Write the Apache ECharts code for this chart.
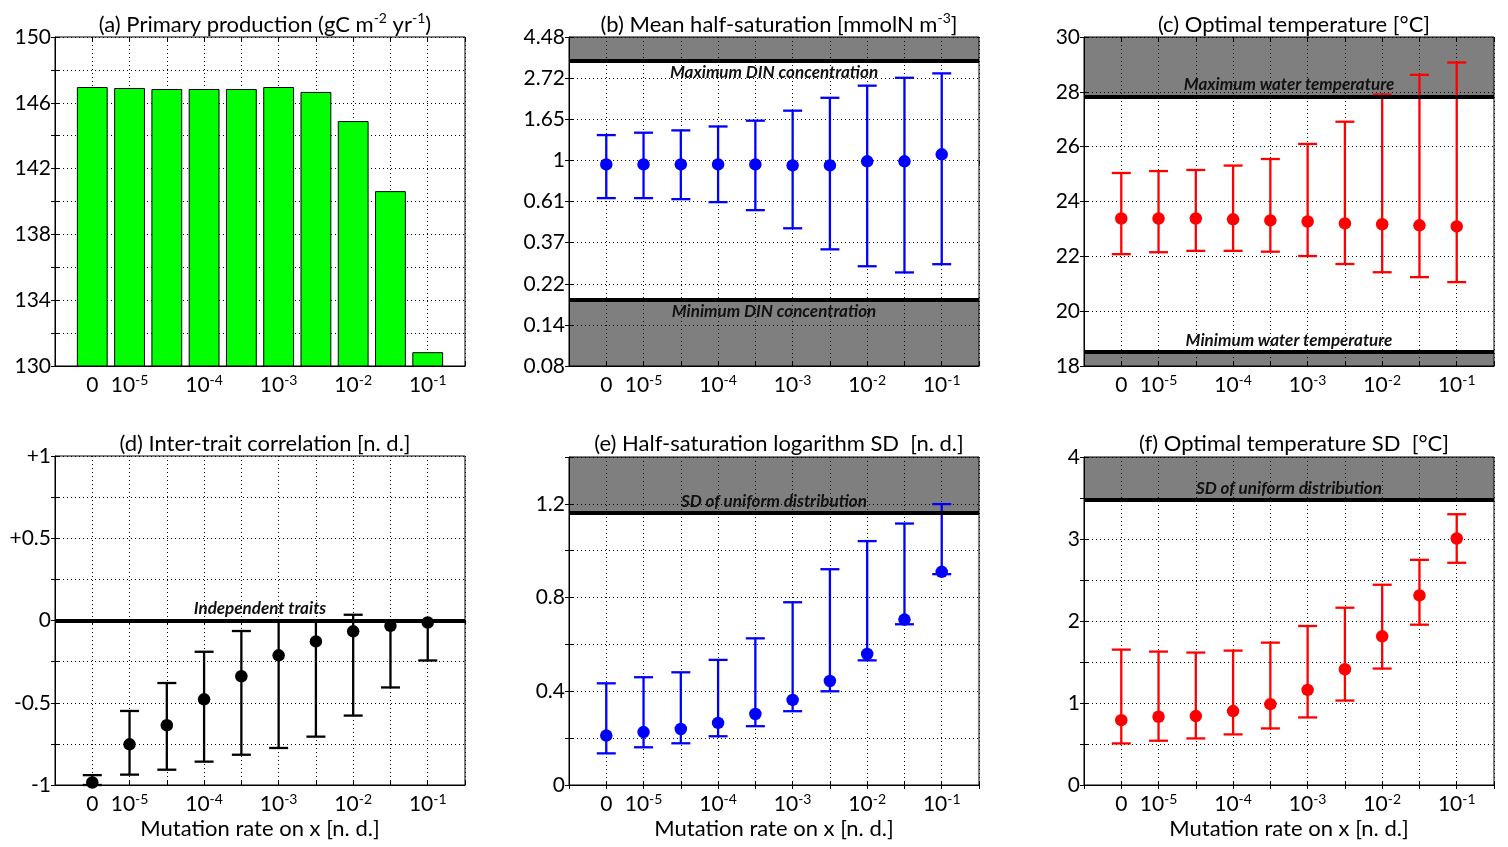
<!DOCTYPE html>
<html>
<head>
<meta charset="utf-8">
<script src="https://cdn.jsdelivr.net/npm/echarts@6/dist/echarts.min.js"></script>
<style>
html,body{margin:0;padding:0;background:#fff;}
#c{width:1508px;height:847px;}
</style>
</head>
<body>
<div id="c"></div>
<script>
// ---------------- data ----------------
const xIdx = [1,2,3,4,5,6,7,8,9,10];
const xTickLabels = ['0','10^-5','','10^-4','','10^-3','','10^-2','','10^-1'];

// (a) primary production
const ppValues = [146.93,146.87,146.81,146.81,146.81,146.93,146.63,144.86,140.6,130.81];

// (b) mean half-saturation (mmolN m-3)
const ksMean  = [0.952,0.952,0.952,0.952,0.952,0.941,0.941,0.988,0.988,1.076];
const ksUpper = [1.36,1.40,1.44,1.51,1.62,1.83,2.14,2.48,2.73,2.88];
const ksLower = [0.632,0.632,0.624,0.602,0.546,0.438,0.339,0.276,0.256,0.283];
const dinMax = 3.37, dinMin = 0.183;

// (c) optimal temperature
const toptMean  = [23.38,23.38,23.38,23.35,23.31,23.27,23.20,23.17,23.13,23.09];
const toptUpper = [25.04,25.11,25.15,25.31,25.55,26.10,26.91,27.90,28.62,29.07];
const toptLower = [22.08,22.15,22.20,22.20,22.17,22.01,21.72,21.42,21.24,21.06];
const tempMax = 27.83, tempMin = 18.51;

// (d) inter-trait correlation
const corrMean  = [-0.985,-0.753,-0.637,-0.479,-0.339,-0.212,-0.127,-0.066,-0.032,-0.012];
const corrUpper = [-0.94,-0.55,-0.38,-0.19,-0.064,0,0,0.035,0,0];
const corrLower = [-1.0,-0.937,-0.907,-0.858,-0.816,-0.775,-0.706,-0.578,-0.407,-0.243];
const corrIndependent = 0;

// (e) half-saturation logarithm SD
const ksSdMean  = [0.211,0.226,0.239,0.265,0.303,0.363,0.444,0.559,0.706,0.910];
const ksSdUpper = [0.434,0.460,0.481,0.534,0.626,0.780,0.921,1.041,1.116,1.199];
const ksSdLower = [0.135,0.161,0.178,0.208,0.251,0.315,0.400,0.532,0.686,0.900];
const ksSdUniform = 1.164;

// (f) optimal temperature SD
const toptSdMean  = [0.791,0.832,0.840,0.901,0.986,1.160,1.412,1.813,2.312,3.006];
const toptSdUpper = [1.651,1.627,1.615,1.639,1.736,1.939,2.162,2.442,2.746,3.302];
const toptSdLower = [0.507,0.540,0.568,0.617,0.690,0.824,1.030,1.420,1.955,2.710];
const toptSdUniform = 3.481;

// ---------------- chart ----------------
const FONT = 'Lato';
const chart = echarts.init(document.getElementById('c'));

const grids = [
  {left:55,  top:37,  width:410, height:329},
  {left:569, top:37,  width:410, height:329},
  {left:1084,top:37,  width:410, height:329},
  {left:55,  top:456, width:410, height:329},
  {left:569, top:457, width:410, height:328},
  {left:1084,top:457, width:410, height:328}
].map(g => Object.assign({show:true, borderColor:'#000', borderWidth:1, backgroundColor:'#fff', containLabel:false}, g));

const dotted = {show:true, lineStyle:{color:'#000', width:1, type:[1,3]}};
const supRich = {s:{fontSize:14, fontFamily:FONT, color:'#000', verticalAlign:'top', lineHeight:12}};

function xLabel(v){
  const i = Math.round(v) - 1;
  if (Math.abs(v - Math.round(v)) > 1e-6 || i < 0 || i >= xTickLabels.length) return '';
  const t = xTickLabels[i];
  if (t.indexOf('^') >= 0) { const p = t.split('^'); return p[0] + '{s|' + p[1] + '}'; }
  return t;
}

const xAxes = grids.map((g, i) => ({
  type:'value', gridIndex:i, min:0, max:11, interval:1,
  axisLine:{show:true, onZero:false, lineStyle:{color:'#000'}},
  axisTick:{show:true, inside:true, length:4, lineStyle:{color:'#000'}},
  splitLine:dotted,
  axisLabel:{formatter:xLabel, fontSize:21, fontFamily:FONT, color:'#000', margin:7, lineHeight:25, rich:supRich},
  name: i >= 3 ? 'Mutation rate on x [n. d.]' : '',
  nameLocation:'middle', nameGap:25,
  nameTextStyle:{fontSize:22, fontFamily:FONT, color:'#000', verticalAlign:'top'}
}));
// mirror axes (top / right) carrying inside ticks only, like the frame of the original
const xMirror = grids.map((g, i) => ({
  type:'value', gridIndex:i, min:0, max:11, interval:1, position:'top',
  axisLine:{show:false}, axisTick:{show:true, inside:true, length:4, lineStyle:{color:'#000'}},
  axisLabel:{show:false}, splitLine:{show:false}
}));

function yBase(i, min, max, interval, fmt){
  return {
    type:'value', gridIndex:i, min:min, max:max, interval:interval,
    axisLine:{show:true, onZero:false, lineStyle:{color:'#000'}},
    axisTick:{show:true, inside:true, length:4, lineStyle:{color:'#000'}},
    splitLine:dotted,
    axisLabel:{formatter:fmt, fontSize:21, fontFamily:FONT, color:'#000', margin:4}
  };
}
const yAxes = [
  yBase(0, 130, 150, 2, v => ((Math.round(v) - 130) % 4 === 0 ? String(Math.round(v)) : '')),
  yBase(1, -2.5, 1.5, 0.5, v => { const e = Math.exp(v); return Math.abs(v) < 1e-9 ? '1' : e.toFixed(2); }),
  yBase(2, 18, 30, 2, v => String(Math.round(v))),
  yBase(3, -1, 1, 0.25, v => { const r = Math.round(v*100)/100; if (r === 1) return '+1'; if (r === 0.5) return '+0.5'; if (r === 0) return '0'; if (r === -0.5) return '-0.5'; if (r === -1) return '-1'; return ''; }),
  yBase(4, 0, 1.4, 0.2, v => { const r = Math.round(v*10); return r % 4 === 0 ? (r/10).toString() : ''; }),
  yBase(5, 0, 4, 0.5, v => (Math.abs(v - Math.round(v)) < 1e-9 ? String(Math.round(v)) : ''))
];
const yRanges = [[130,150,2],[-2.5,1.5,0.5],[18,30,2],[-1,1,0.25],[0,1.4,0.2],[0,4,0.5]];
const yMirror = yRanges.map((r, i) => ({
  type:'value', gridIndex:i, min:r[0], max:r[1], interval:r[2], position:'right',
  axisLine:{show:false}, axisTick:{show:true, inside:true, length:4, lineStyle:{color:'#000'}},
  axisLabel:{show:false}, splitLine:{show:false}
}));

function errorBarSeries(i, lower, upper, color, tf){
  tf = tf || (v => v);
  return {
    type:'custom', xAxisIndex:i, yAxisIndex:i, z:2, silent:true,
    data: xIdx.map((x, k) => [x, tf(lower[k]), tf(upper[k])]),
    encode:{x:0, y:[1,2]},
    renderItem:function(params, api){
      const x = api.value(0);
      const lo = api.coord([x, api.value(1)]);
      const hi = api.coord([x, api.value(2)]);
      const hw = 9.5;
      const st = {stroke:color, lineWidth:2.3};
      return {type:'group', children:[
        {type:'line', shape:{x1:lo[0], y1:lo[1], x2:hi[0], y2:hi[1]}, style:st},
        {type:'line', shape:{x1:hi[0]-hw, y1:hi[1], x2:hi[0]+hw, y2:hi[1]}, style:st},
        {type:'line', shape:{x1:lo[0]-hw, y1:lo[1], x2:lo[0]+hw, y2:lo[1]}, style:st}
      ]};
    }
  };
}

function meanSeries(i, mean, color, tf){
  tf = tf || (v => v);
  return {
    type:'scatter', xAxisIndex:i, yAxisIndex:i, z:3, silent:true,
    symbol:'circle', symbolSize:12.5,
    itemStyle:{color:color, opacity:1},
    data: xIdx.map((x, k) => [x, tf(mean[k])])
  };
}

const labelStyle = {show:true, fontSize:17, fontStyle:'italic', fontWeight:'bold', fontFamily:FONT, color:'#111', distance:3};

function refSeries(i, areas, lines){
  const s = {type:'scatter', xAxisIndex:i, yAxisIndex:i, z:5, silent:true, data:[], symbolSize:0};
  if (areas && areas.length) {
    s.markArea = {silent:true, itemStyle:{color:'rgba(0,0,0,0.5)'}, data: areas.map(a => [{yAxis:a[0]}, {yAxis:a[1]}])};
  }
  if (lines && lines.length) {
    s.markLine = {silent:true, symbol:['none','none'], animation:false,
      lineStyle:{color:'#000', width:4, type:'solid'},
      data: lines.map(l => ({yAxis:l.y, label:Object.assign({}, labelStyle, {position:l.pos, formatter:l.text})}))
    };
  }
  return s;
}

const barSeries = {
  type:'custom', xAxisIndex:0, yAxisIndex:0, z:2, silent:true,
  data: xIdx.map((x, k) => [x, ppValues[k]]),
  encode:{x:0, y:1},
  renderItem:function(params, api){
    const x = api.value(0);
    const top = api.coord([x, api.value(1)]);
    const base = api.coord([x, 130]);
    const w = api.size([0.8, 0])[0];
    return {type:'rect', shape:{x:top[0]-w/2, y:top[1], width:w, height:base[1]-top[1]},
      style:{fill:'#00ff00', stroke:'#000', lineWidth:1}};
  }
};

const lnF = v => Math.log(v);

const series = [
  barSeries,
  errorBarSeries(1, ksLower, ksUpper, '#0000ff', lnF),
  meanSeries(1, ksMean, '#0000ff', lnF),
  refSeries(1, [[Math.log(dinMax), 1.5], [-2.5, Math.log(dinMin)]],
    [{y:Math.log(dinMax), pos:'insideMiddleBottom', text:'Maximum DIN concentration'},
     {y:Math.log(dinMin), pos:'insideMiddleBottom', text:'Minimum DIN concentration'}]),
  errorBarSeries(2, toptLower, toptUpper, '#ff0000'),
  meanSeries(2, toptMean, '#ff0000'),
  refSeries(2, [[tempMax, 30], [18, tempMin]],
    [{y:tempMax, pos:'insideMiddleTop', text:'Maximum water temperature'},
     {y:tempMin, pos:'insideMiddleTop', text:'Minimum water temperature'}]),
  errorBarSeries(3, corrLower, corrUpper, '#000000'),
  meanSeries(3, corrMean, '#000000'),
  refSeries(3, [], [{y:corrIndependent, pos:'insideMiddleTop', text:'Independent traits'}]),
  errorBarSeries(4, ksSdLower, ksSdUpper, '#0000ff'),
  meanSeries(4, ksSdMean, '#0000ff'),
  refSeries(4, [[ksSdUniform, 1.4]], [{y:ksSdUniform, pos:'insideMiddleTop', text:'SD of uniform distribution'}]),
  errorBarSeries(5, toptSdLower, toptSdUpper, '#ff0000'),
  meanSeries(5, toptSdMean, '#ff0000'),
  refSeries(5, [[toptSdUniform, 4]], [{y:toptSdUniform, pos:'insideMiddleTop', text:'SD of uniform distribution'}])
];

const titleTexts = [
  '(a) Primary production (gC m{s|-2} yr{s|-1})',
  '(b) Mean half-saturation [mmolN m{s|-3}]',
  '(c) Optimal temperature [°C]',
  '(d) Inter-trait correlation [n. d.]',
  '(e) Half-saturation logarithm SD  [n. d.]',
  '(f) Optimal temperature SD  [°C]'
];
const titles = titleTexts.map((t, i) => ({
  text:t, left: grids[i].left + grids[i].width/2, textAlign:'center',
  top: i < 3 ? 6 : 425,
  textStyle:{fontSize:22, fontWeight:'normal', fontFamily:FONT, color:'#000', lineHeight:28,
    rich:{s:{fontSize:14, fontFamily:FONT, color:'#000', verticalAlign:'top', lineHeight:13}}}
}));

chart.setOption({
  backgroundColor:'#fff',
  animation:false,
  title:titles,
  grid:grids,
  xAxis:xAxes.concat(xMirror),
  yAxis:yAxes.concat(yMirror),
  series:series
});
</script>
</body>
</html>
